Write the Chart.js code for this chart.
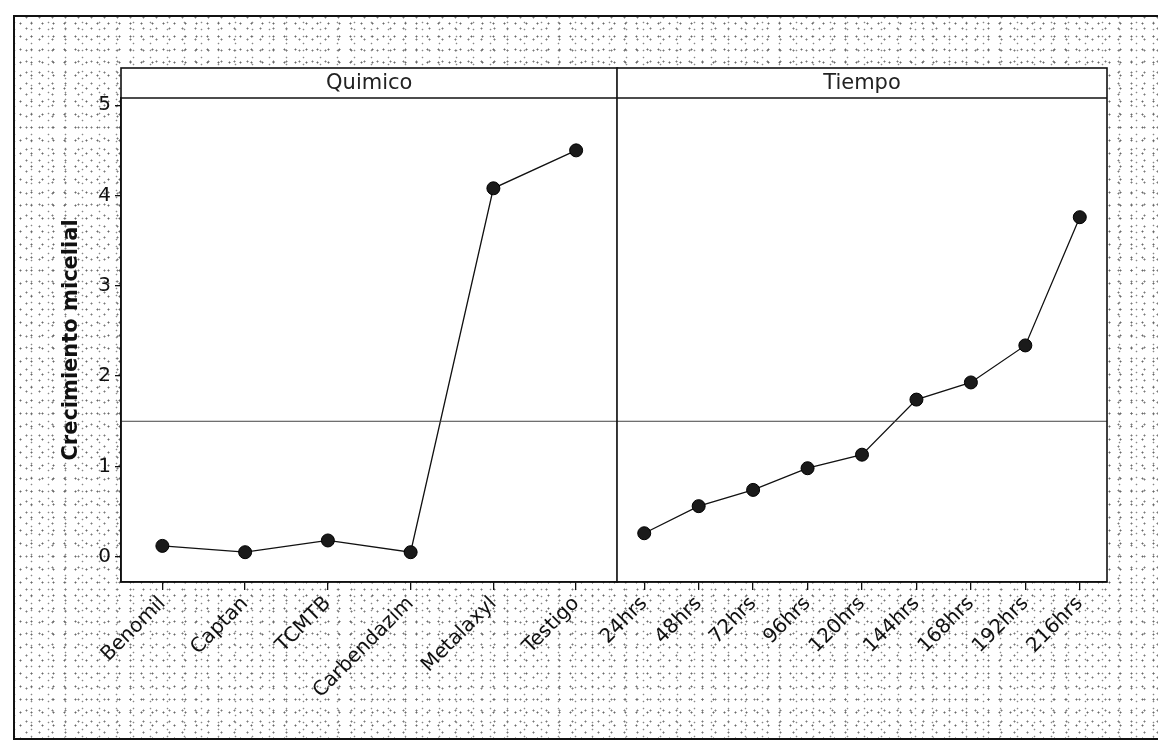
<!DOCTYPE html>
<html>
<head>
<meta charset="utf-8">
<script src="https://cdn.jsdelivr.net/npm/chart.js@4.4.1/dist/chart.umd.min.js"></script>
<style>
    html, body { margin: 0; padding: 0; background: #fff; }
    #page { position: relative; width: 1158px; height: 742px; overflow: hidden; }
    #paper {
        position: absolute; left: 13px; top: 15px; width: 1170px; height: 721px;
        border-left: 2px solid #111; border-top: 2px solid #111; border-bottom: 2px solid #111;
        background-color: #fff;
        background-image:
            radial-gradient(circle, #666 0.8px, transparent 1.2px),
            radial-gradient(circle, #777 0.8px, transparent 1.2px),
            radial-gradient(circle, #888 0.7px, transparent 1.1px);
        background-size: 11px 13px, 13px 11px, 17px 7px;
        background-position: 0 0, 5px 6px, 8px 2px;
    }
    canvas { position: absolute; top: 0; }
    #left { left: 0; }
    #right { left: 560px; }
</style>
</head>
<body>
<div id="page">
    <div id="paper"></div>
    <canvas id="left" width="625" height="742"></canvas>
    <canvas id="right" width="598" height="742"></canvas>
</div>
<script>
// valores (efectos principales)
const quimicoLabels = ['Benomil', 'Captan', 'TCMTB', 'Carbendazim', 'Metalaxyl', 'Testigo'];
const quimicoValues = [0.12, 0.05, 0.18, 0.05, 4.08, 4.50];

const tiempoLabels = ['24hrs', '48hrs', '72hrs', '96hrs', '120hrs', '144hrs', '168hrs', '192hrs', '216hrs'];
const tiempoValues = [0.26, 0.56, 0.74, 0.98, 1.13, 1.74, 1.93, 2.34, 3.76];

const yTicks = [0, 1, 2, 3, 4, 5];
const grandMean = 1.5;

const FONT = "'DejaVu Sans', Verdana, sans-serif";
const Y_MIN = -0.28;
const Y_MAX = 5.08;

// dibuja fondo blanco, marco, franja del panel y la linea de la media
const panelPlugin = {
    id: 'panelPlugin',
    beforeDraw(chart, args, opts) {
        const ctx = chart.ctx;
        const a = chart.chartArea;
        ctx.save();
        ctx.fillStyle = '#fff';
        ctx.fillRect(a.left, opts.stripTop, a.right - a.left, a.bottom - opts.stripTop);
        ctx.restore();
    },
    afterDatasetsDraw(chart, args, opts) {
        const ctx = chart.ctx;
        const a = chart.chartArea;
        const y = chart.scales.y.getPixelForValue(grandMean);
        ctx.save();
        ctx.strokeStyle = '#444';
        ctx.lineWidth = 1;
        ctx.beginPath();
        ctx.moveTo(a.left, y);
        ctx.lineTo(a.right, y);
        ctx.stroke();

        ctx.strokeStyle = '#111';
        ctx.lineWidth = 1.6;
        ctx.strokeRect(a.left, opts.stripTop, a.right - a.left, a.bottom - opts.stripTop);
        ctx.beginPath();
        ctx.moveTo(a.left, a.top);
        ctx.lineTo(a.right, a.top);
        ctx.stroke();

        ctx.fillStyle = '#222';
        ctx.font = '21px ' + FONT;
        ctx.textAlign = 'center';
        ctx.textBaseline = 'middle';
        ctx.fillText(opts.title, (a.left + a.right) / 2, (opts.stripTop + a.top) / 2 + 1);
        ctx.restore();
    }
};

function makePanel(canvasId, labels, values, title, showY, padding) {
    const ctx = document.getElementById(canvasId).getContext('2d');
    return new Chart(ctx, {
        type: 'line',
        data: {
            labels: labels,
            datasets: [{
                data: values,
                borderColor: '#111',
                borderWidth: 1.3,
                pointStyle: 'circle',
                pointRadius: 6.5,
                pointBackgroundColor: '#1a1a1a',
                pointBorderColor: '#000',
                pointBorderWidth: 1,
                tension: 0
            }]
        },
        options: {
            responsive: false,
            animation: false,
            layout: { padding: padding },
            plugins: {
                legend: { display: false },
                tooltip: { enabled: false },
                panelPlugin: { title: title, stripTop: 68 }
            },
            scales: {
                x: {
                    offset: true,
                    grid: { display: true, drawOnChartArea: false, drawTicks: true, tickLength: 8, color: '#111', lineWidth: 1.3 },
                    border: { display: true, color: '#111', width: 1.6 },
                    ticks: {
                        color: '#111',
                        font: { family: FONT, size: 20 },
                        maxRotation: 45,
                        minRotation: 45,
                        padding: 2,
                        autoSkip: false
                    },
                    afterFit(axis) {
                        axis.height = 160;
                        axis.paddingLeft = 0;
                        axis.paddingRight = 0;
                    }
                },
                y: {
                    display: showY,
                    min: Y_MIN,
                    max: Y_MAX,
                    afterBuildTicks(axis) { axis.ticks = yTicks.map(v => ({ value: v })); },
                    grid: { display: true, drawOnChartArea: false, drawTicks: true, tickLength: 6, color: '#111', lineWidth: 1.3 },
                    border: { display: true, color: '#111', width: 1.6 },
                    ticks: {
                        color: '#111',
                        font: { family: FONT, size: 20 },
                        padding: 4
                    },
                    title: {
                        display: true,
                        text: 'Crecimiento micelial',
                        color: '#111',
                        font: { family: FONT, size: 21, weight: 'bold' },
                        padding: { top: 59, bottom: 0 }
                    },
                    afterFit(axis) { axis.width = showY ? 121 : 0; }
                }
            }
        },
        plugins: [panelPlugin]
    });
}

makePanel('left', quimicoLabels, quimicoValues, 'Quimico', true, { top: 98, right: 3, bottom: 0, left: 0 });
makePanel('right', tiempoLabels, tiempoValues, 'Tiempo', false, { top: 98, right: 51, bottom: 0, left: 57 });
</script>
</body>
</html>
